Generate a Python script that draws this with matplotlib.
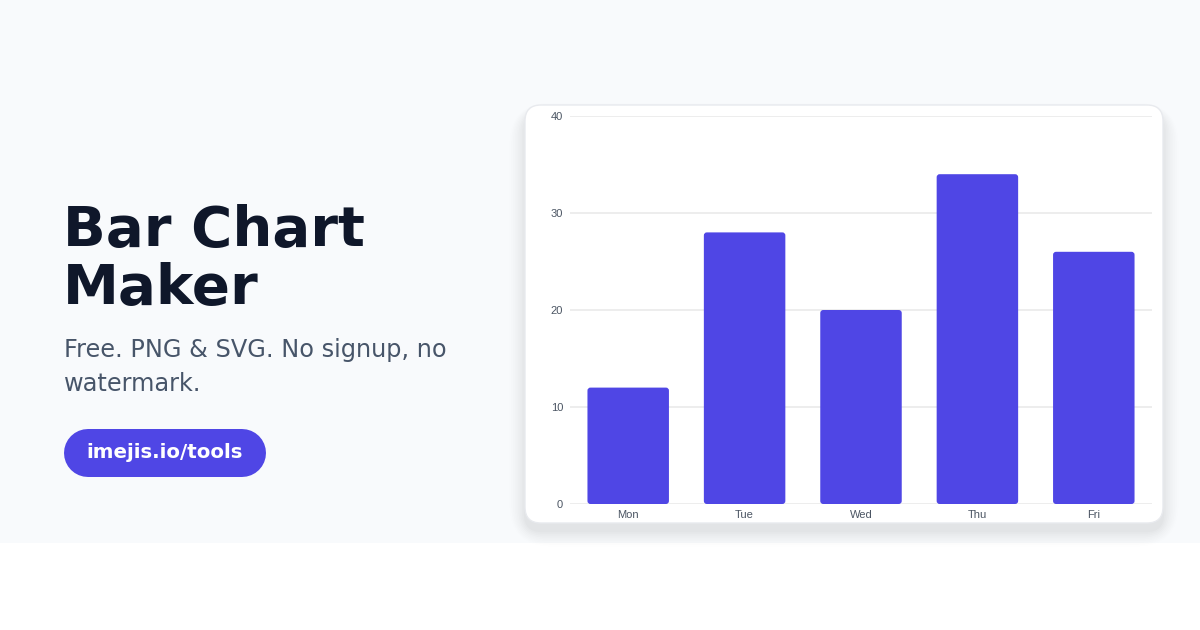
import matplotlib
matplotlib.use("Agg")
import matplotlib.pyplot as plt
from matplotlib.patches import FancyBboxPatch, Rectangle

# ---- data ----
categories = ["Mon", "Tue", "Wed", "Thu", "Fri"]
values = [12, 28, 20, 34, 26]
y_ticks = [0, 10, 20, 30, 40]

title_lines = ["Bar Chart", "Maker"]
subtitle_lines = ["Free. PNG & SVG. No signup, no", "watermark."]
button_text = "imejis.io/tools"

BAR = "#4f46e5"
W, H = 1200, 630
fig = plt.figure(figsize=(W / 100, H / 100), dpi=100)
fig.patch.set_facecolor("white")

# background layer in pixel coordinates
bg = fig.add_axes([0, 0, 1, 1])
bg.set_xlim(0, W)
bg.set_ylim(H, 0)
bg.axis("off")
bg.add_patch(Rectangle((0, 0), W, 543, facecolor="#f8fafc", edgecolor="none"))

# card shadow
for i, a in enumerate([0.014, 0.013, 0.012, 0.010, 0.009, 0.008, 0.007, 0.006, 0.005]):
    g = 2 + i * 3
    bg.add_patch(FancyBboxPatch((525 - g * 0.6, 105 + 8 - g * 0.4), 638 + g * 1.2, 418 + g * 1.0,
                                boxstyle="round,pad=0,rounding_size=%d" % (16 + g),
                                facecolor="#0f172a", edgecolor="none", alpha=a))
bg.add_patch(FancyBboxPatch((525, 105), 638, 418, boxstyle="round,pad=0,rounding_size=16",
                            facecolor="white", edgecolor="#e8eaee", linewidth=1))

# left text
bg.text(63, 246, title_lines[0], fontsize=40.5, fontweight="bold", color="#0f172a",
        family="DejaVu Sans", va="baseline", ha="left")
bg.text(63, 304, title_lines[1], fontsize=40.5, fontweight="bold", color="#0f172a",
        family="DejaVu Sans", va="baseline", ha="left")
bg.text(64, 357, subtitle_lines[0], fontsize=17.3, color="#475569",
        family="DejaVu Sans", va="baseline", ha="left")
bg.text(64, 391, subtitle_lines[1], fontsize=17.3, color="#475569",
        family="DejaVu Sans", va="baseline", ha="left")
# pill button
bg.plot([88, 242], [453, 453], color=BAR, linewidth=48 * 0.72, solid_capstyle="round")
bg.text(165, 453, button_text, fontsize=14.2, fontweight="bold", color="white",
        family="DejaVu Sans", va="center", ha="center")

# chart
ax = fig.add_axes([570 / W, (H - 504) / H, 582 / W, 388 / H])
ax.set_facecolor("none")
x = list(range(len(categories)))
bars = ax.bar(x, values, width=0.7, color=BAR)
ax.set_xlim(-0.5, len(categories) - 0.5)
ax.set_ylim(0, 40)
ax.set_yticks(y_ticks)
ax.set_xticks(x)
ax.set_xticklabels(categories)
for s in ax.spines.values():
    s.set_visible(False)
ax.grid(axis="y", color="#ececec", linewidth=1.3)
ax.set_axisbelow(True)
ax.tick_params(length=0, labelsize=8, labelcolor="#4b5563", pad=4)
ax.tick_params(axis="y", pad=5)
for lab in ax.get_xticklabels() + ax.get_yticklabels():
    lab.set_family("Liberation Sans")

# rounded bars derived from the bar geometry
px_x = 582 / 5.0
px_y = 388 / 40.0
for b in bars:
    b.set_visible(False)
    r = 3.0 / px_x
    ax.add_patch(FancyBboxPatch((b.get_x(), b.get_y()), b.get_width(), b.get_height(),
                                boxstyle="round,pad=0,rounding_size=%f" % r,
                                mutation_aspect=px_x / px_y,
                                facecolor=BAR, edgecolor="none", zorder=3))

fig.savefig("out.png", dpi=100, facecolor=fig.get_facecolor())
